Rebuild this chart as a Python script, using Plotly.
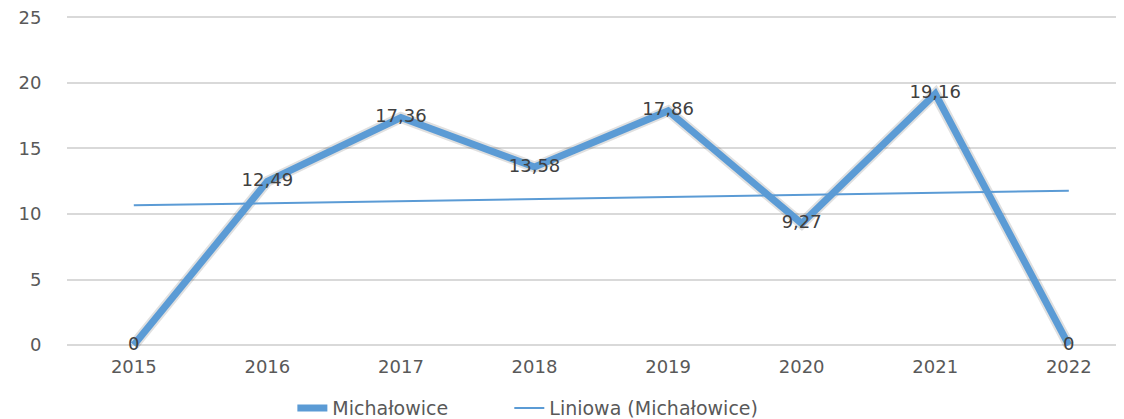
import numpy as np
import plotly.graph_objects as go

years = ["2015", "2016", "2017", "2018", "2019", "2020", "2021", "2022"]
values = [0, 12.49, 17.36, 13.58, 17.86, 9.27, 19.16, 0]
labels = ["0", "12,49", "17,36", "13,58", "17,86", "9,27", "19,16", "0"]
series_name = "Michałowice"
trend_name = "Liniowa (Michałowice)"
y_ticks = [0, 5, 10, 15, 20, 25]

idx = np.arange(len(years))
slope, intercept = np.polyfit(idx, values, 1)
trend = slope * idx + intercept

blue = "#5B9BD5"
font = "DejaVu Sans"

fig = go.Figure()
# soft shadow
fig.add_trace(go.Scatter(
    x=idx, y=values, mode="lines",
    line=dict(color="rgba(0,0,0,0.12)", width=11),
    showlegend=False, hoverinfo="skip",
))
fig.add_trace(go.Scatter(
    x=idx, y=values, mode="lines+text", name=series_name,
    line=dict(color=blue, width=7),
    text=labels, textposition="middle center",
    textfont=dict(family=font, size=18, color="#404040"),
    cliponaxis=False, legend="legend",
))
fig.add_trace(go.Scatter(
    x=idx, y=trend, mode="lines", name=trend_name,
    line=dict(color=blue, width=2), legend="legend2",
))

legend_common = dict(
    orientation="h", xref="container", yref="container",
    xanchor="left", y=0.045, yanchor="middle",
    font=dict(family=font, size=19, color="#595959"),
    bgcolor="rgba(0,0,0,0)",
)

fig.update_layout(
    width=1124, height=419,
    margin=dict(l=59, r=0, t=8, b=78, autoexpand=False),
    paper_bgcolor="white", plot_bgcolor="white",
    showlegend=True,
    legend=dict(x=0.253, **legend_common),
    legend2=dict(x=0.446, **legend_common),
    xaxis=dict(
        range=[-0.5, 7.473], automargin=False, tickangle=0,
        tickmode="array", tickvals=list(idx), ticktext=years,
        showgrid=False, zeroline=False, showline=False,
        ticks="outside", ticklen=1, tickcolor="rgba(0,0,0,0)",
        tickfont=dict(family=font, size=18, color="#595959"),
        ticklabeloverflow="allow",
    ),
    yaxis=dict(
        range=[-0.3, 25.1], automargin=False,
        tickmode="array", tickvals=y_ticks,
        showgrid=True, gridcolor="#D9D9D9", gridwidth=2,
        zeroline=False, showline=False,
        ticks="outside", ticklen=21, tickcolor="rgba(0,0,0,0)",
        tickfont=dict(family=font, size=18, color="#595959"),
        ticklabeloverflow="allow",
    ),
)

fig.write_html("out.html")
